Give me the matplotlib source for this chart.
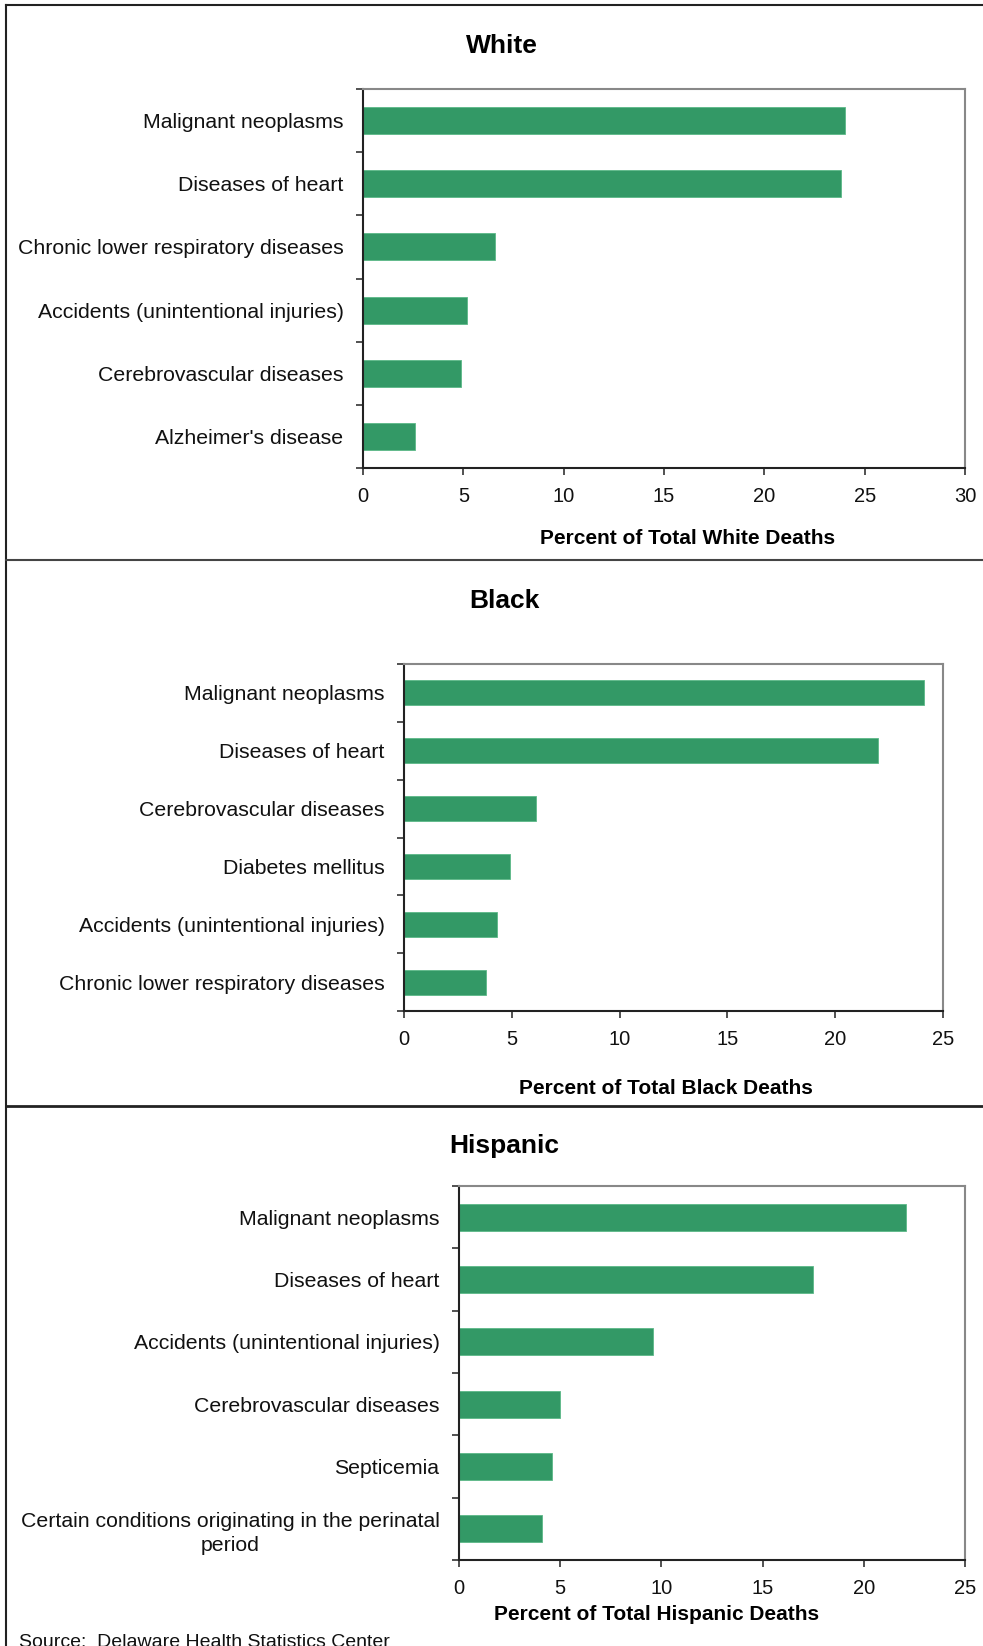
import matplotlib.pyplot as plt
import matplotlib.lines as mlines

plt.rcParams['font.family'] = ['Liberation Sans', 'DejaVu Sans']

white_causes = ['Malignant neoplasms', 'Diseases of heart', 'Chronic lower respiratory diseases',
                'Accidents (unintentional injuries)', 'Cerebrovascular diseases', "Alzheimer's disease"]
white_pct = [24.0, 23.8, 6.6, 5.2, 4.9, 2.6]

black_causes = ['Malignant neoplasms', 'Diseases of heart', 'Cerebrovascular diseases',
                'Diabetes mellitus', 'Accidents (unintentional injuries)', 'Chronic lower respiratory diseases']
black_pct = [24.1, 22.0, 6.1, 4.9, 4.3, 3.8]

hisp_causes = ['Malignant neoplasms', 'Diseases of heart', 'Accidents (unintentional injuries)',
               'Cerebrovascular diseases', 'Septicemia',
               'Certain conditions originating in the perinatal\nperiod']
hisp_pct = [22.1, 17.5, 9.6, 5.0, 4.6, 4.1]

W, H = 983, 1646
fig = plt.figure(figsize=(W / 100, H / 100), dpi=100)
fig.patch.set_facecolor('white')


def px_rect(l, r, t, b):
    return [l / W, 1 - b / H, (r - l) / W, (b - t) / H]


def panel(rect, causes, pct, xmax, title, title_xy, xlabel, xlabel_xy):
    ax = fig.add_axes(px_rect(*rect))
    y = range(len(causes))
    ax.barh(y, pct, height=0.43, color='#339966', edgecolor='#5cb887', linewidth=0.6)
    ax.set_ylim(len(causes) - 0.5, -0.5)
    ax.set_xlim(0, xmax)
    ax.set_xticks(range(0, xmax + 1, 5))
    ax.set_yticks(list(y))
    ax.set_yticklabels(causes, fontsize=15.3, color='#111111')
    for lab in ax.get_yticklabels():
        lab.set_multialignment('center')
        lab.set_linespacing(1.35)
    ax.set_yticks([i - 0.5 for i in range(len(causes) + 1)], minor=True)
    ax.tick_params(axis='y', which='major', length=0, pad=14)
    ax.tick_params(axis='y', which='minor', length=5, width=1.2, direction='out', color='#333333')
    ax.tick_params(axis='x', length=5, width=1.2, direction='out', color='#333333',
                   labelsize=14.5, pad=9, labelcolor='#111111')
    for s in ['left', 'bottom']:
        ax.spines[s].set_color('#222222')
        ax.spines[s].set_linewidth(1.5)
    for s in ['top', 'right']:
        ax.spines[s].set_color('#888888')
        ax.spines[s].set_linewidth(1.5)
    fig.text(title_xy[0] / W, 1 - title_xy[1] / H, title, fontsize=19, fontweight='bold',
             ha='center', va='center')
    fig.text(xlabel_xy[0] / W, 1 - xlabel_xy[1] / H, xlabel, fontsize=15, fontweight='bold',
             ha='center', va='center')
    return ax


panel((363, 965, 89, 468), white_causes, white_pct, 30, 'White', (502, 46),
      'Percent of Total White Deaths', (688, 538))
panel((404, 943, 664, 1011), black_causes, black_pct, 25, 'Black', (504, 601),
      'Percent of Total Black Deaths', (666, 1088))
panel((459, 965, 1186, 1560), hisp_causes, hisp_pct, 25, 'Hispanic', (504, 1146),
      'Percent of Total Hispanic Deaths', (657, 1614))

# panel frame lines
def fig_line(x0, y0, x1, y1, color='#222222', lw=1.5):
    fig.add_artist(mlines.Line2D([x0 / W, x1 / W], [1 - y0 / H, 1 - y1 / H],
                                 color=color, linewidth=lw, transform=fig.transFigure))


fig_line(6, 5, W, 5)
fig_line(6, 5, 6, H)
fig_line(6, 560, W, 560, color='#444444', lw=1.5)
fig_line(6, 1106, W, 1106, lw=2)

fig.text(19 / W, 1 - 1647 / H, 'Source:  Delaware Health Statistics Center', fontsize=14,
         ha='left', va='baseline', color='#111111')

fig.savefig('out.png', dpi=100)
